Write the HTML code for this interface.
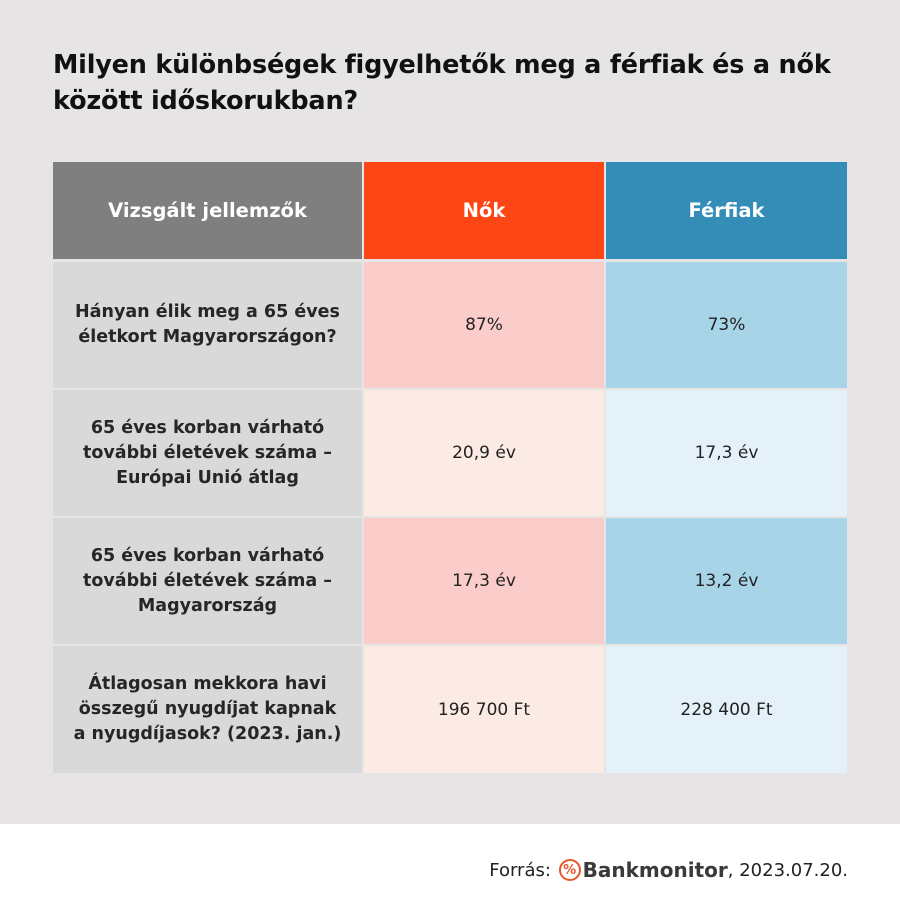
<!DOCTYPE html>
<html><head><meta charset="utf-8"><style>
*{margin:0;padding:0;box-sizing:border-box}
body{width:900px;height:900px;background:#fff;font-family:"DejaVu Sans","Liberation Sans",sans-serif;position:relative;overflow:hidden}
#top{position:absolute;left:0;top:0;width:900px;height:824px;background:#e6e4e5}
h1{position:absolute;left:53px;top:47px;font-size:25.5px;line-height:36px;font-weight:bold;color:#111;letter-spacing:-0.2px;white-space:nowrap}
.c{position:absolute;display:flex;align-items:center;justify-content:center;text-align:center;font-size:17px;color:#222}
.h{font-weight:bold;color:#fff;font-size:19.5px}
.l{font-weight:bold;font-size:17.5px;line-height:25px;background:#d9d9d9;color:#262626}
#src{position:absolute;right:52px;top:858px;font-size:18px;color:#222;display:flex;align-items:center}
</style></head><body>
<div id="top"></div>
<h1>Milyen különbségek figyelhetők meg a férfiak és a nők<br>között időskorukban?</h1>
<div class="c h" style="left:53px;top:162px;width:309px;height:97px;background:#7f7f7f">Vizsgált jellemzők</div>
<div class="c h" style="left:364px;top:162px;width:240px;height:97px;background:#fc4615">Nők</div>
<div class="c h" style="left:606px;top:162px;width:241px;height:97px;background:#338db6">Férfiak</div>

<div class="c l" style="left:53px;top:262px;width:309px;height:126px">Hányan élik meg a 65 éves<br>életkort Magyarországon?</div>
<div class="c" style="left:364px;top:262px;width:240px;height:126px;background:#fbcdca">87%</div>
<div class="c" style="left:606px;top:262px;width:241px;height:126px;background:#a8d4e8">73%</div>

<div class="c l" style="left:53px;top:390px;width:309px;height:126px">65 éves korban várható<br>további életévek száma –<br>Európai Unió átlag</div>
<div class="c" style="left:364px;top:390px;width:240px;height:126px;background:#fcebe5">20,9 év</div>
<div class="c" style="left:606px;top:390px;width:241px;height:126px;background:#e5f1f8">17,3 év</div>

<div class="c l" style="left:53px;top:518px;width:309px;height:126px">65 éves korban várható<br>további életévek száma –<br>Magyarország</div>
<div class="c" style="left:364px;top:518px;width:240px;height:126px;background:#fbcdca">17,3 év</div>
<div class="c" style="left:606px;top:518px;width:241px;height:126px;background:#a8d4e8">13,2 év</div>

<div class="c l" style="left:53px;top:646px;width:309px;height:127px">Átlagosan mekkora havi<br>összegű nyugdíjat kapnak<br>a nyugdíjasok? (2023. jan.)</div>
<div class="c" style="left:364px;top:646px;width:240px;height:127px;background:#fcebe5">196 700 Ft</div>
<div class="c" style="left:606px;top:646px;width:241px;height:127px;background:#e5f1f8">228 400 Ft</div>

<div id="src">Forrás:&nbsp;<span style="display:inline-flex;width:22px;height:22px;border:2px solid #e8572a;border-radius:50%;color:#e8572a;font-size:13px;font-weight:bold;align-items:center;justify-content:center;margin:0 2px">%</span><b style="color:#3a3a3a;font-size:20px">Bankmonitor</b>, 2023.07.20.</div>
</body></html>
